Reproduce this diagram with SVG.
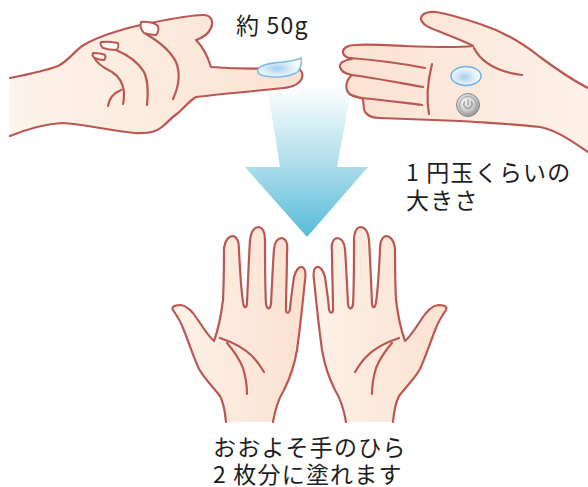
<svg xmlns="http://www.w3.org/2000/svg" xmlns:xlink="http://www.w3.org/1999/xlink" width="588" height="487" viewBox="0 0 588 487">
  <defs>
    <style>
      .skin-line { fill: none; stroke: #bb5752; stroke-width: 2.2; stroke-linecap: round; stroke-linejoin: round; }
      .outline { stroke: #bb5752; stroke-width: 2.2; stroke-linecap: round; stroke-linejoin: round; }
      .nail { fill: #fffaf6; stroke: #bb5752; stroke-width: 2; stroke-linejoin: round; }
      .label { font-family: "Noto Sans CJK JP", "Noto Sans", sans-serif; font-size: 23px; fill: #1e1e1e; letter-spacing: 1.2px; }
    </style>
    <linearGradient id="arrowFill" x1="0" y1="85" x2="0" y2="237" gradientUnits="userSpaceOnUse">
      <stop offset="0" stop-color="#ffffff"/>
      <stop offset="0.55" stop-color="#a9dbea"/>
      <stop offset="1" stop-color="#55bcd8"/>
    </linearGradient>
    <linearGradient id="skinLT" x1="10" y1="0" x2="302" y2="0" gradientUnits="userSpaceOnUse">
      <stop offset="0" stop-color="#fdf3ea"/>
      <stop offset="1" stop-color="#fbe2d2"/>
    </linearGradient>
    <linearGradient id="skinRT" x1="340" y1="0" x2="588" y2="0" gradientUnits="userSpaceOnUse">
      <stop offset="0" stop-color="#fbe1d1"/>
      <stop offset="1" stop-color="#fdf1e8"/>
    </linearGradient>
    <linearGradient id="skinBL" x1="173" y1="0" x2="305" y2="0" gradientUnits="userSpaceOnUse">
      <stop offset="0" stop-color="#fdf1e7"/>
      <stop offset="1" stop-color="#fbe1d0"/>
    </linearGradient>
    <!-- mirrored hand: user-space x runs right to left on screen -->
    <linearGradient id="skinBR" x1="306" y1="0" x2="172" y2="0" gradientUnits="userSpaceOnUse">
      <stop offset="0" stop-color="#fdf1e7"/>
      <stop offset="1" stop-color="#fbe1d0"/>
    </linearGradient>
    <radialGradient id="gel" cx="0.45" cy="0.55" r="0.55">
      <stop offset="0" stop-color="#9fcdf1"/>
      <stop offset="0.45" stop-color="#cfe6f8"/>
      <stop offset="1" stop-color="#ffffff"/>
    </radialGradient>
    <radialGradient id="coinFill" cx="0.4" cy="0.35" r="0.7">
      <stop offset="0" stop-color="#f7f7f7"/>
      <stop offset="0.6" stop-color="#c8c8c8"/>
      <stop offset="1" stop-color="#8e8e8e"/>
    </radialGradient>

    <!-- open palm (left one); fill closes across the wrist, stroke does not -->
    <path id="palmOutline" d="M 226,422 C 225,410 223,402 220,396 C 212,386 204,378 199,369 C 193,356 188,340 183,328 C 180,320 175,313 173,310 C 171,306 176,305 181,305 C 188,306 193,312 198,320 C 204,329 209,337 214,341 C 218,330 221,316 223,300 C 224,280 224,260 224,248 C 225,240 229,236 233,236 C 238,237 239,243 239,250 C 240,270 241,290 243,302 C 244,309 247,309 247,302 C 248,282 249,255 250,240 C 251,231 254,227 259,227 C 264,228 265,233 265,240 C 265,262 265,288 266,304 C 267,310 270,310 271,304 C 272,285 273,262 274,249 C 275,241 278,238 282,238 C 286,239 288,244 287,252 C 287,272 286,292 286,309 C 286,314 289,314 290,309 C 291,296 293,285 294,277 C 296,270 299,266 302,267 C 305,268 306,273 305,280 C 303,300 300,328 297,350 C 294,368 289,380 284,390 C 279,398 275,410 273,422"/>
    <path id="palmLines" d="M 220,338 C 232,342 244,348 252,356 C 257,361 261,367 264,372 M 227,343 C 233,350 239,358 243,368 C 246,378 247,388 247,394"/>
  </defs>

  <rect width="588" height="487" fill="#ffffff"/>

  <!-- downward arrow -->
  <g id="arrow">
    <polygon points="267,85 352,85 337,167 368,167 307,237 245,167 280,167" fill="url(#arrowFill)"/>
  </g>

  <!-- hand with a dab of gel on the fingertip -->
  <g id="hand-fingertip">
    <path class="outline" fill="url(#skinLT)" d="M 10,78 C 25,75 45,71 58,66 C 68,61 74,52 82,46 C 92,40 104,35 118,31 C 130,27 140,25 150,23 C 170,19 190,15 203,15 C 211,15 214,21 211,28 C 208,35 202,38 196,40 C 203,47 208,57 211,67 C 240,69 268,69 290,67 C 298,66 304,71 302,78 C 300,84 292,87 284,88 C 255,91 222,94 196,97 C 188,102 183,109 178,113 C 172,117 168,122 162,127 C 156,132 148,134 135,133 C 110,131 85,124 62,123 C 42,124 25,130 10,136"/>
    <path class="skin-line" d="M 146,34 C 158,41 170,50 176,62 C 181,74 178,88 173,99"/>
    <path class="skin-line" d="M 116,50 C 128,55 138,62 144,72 C 149,82 148,95 147,105"/>
    <path class="skin-line" d="M 94,57 C 96,63 104,68 112,72 C 120,77 123,84 124,92 C 124,97 124,101 123,104"/>
    <path class="skin-line" d="M 108,106 C 109,98 114,93 121,90"/>
    <path class="nail" d="M 141,22 C 148,21 155,23 158,26 C 159,30 158,33 156,35 C 151,35 147,34 144,33 C 141,30 140,26 141,22 Z"/>
    <path class="nail" d="M 101,42 C 107,41 113,42 118,43 C 119,46 118,49 116,50 C 111,50 106,49 103,48 C 101,46 100,44 101,42 Z"/>
    <path class="nail" d="M 93,53 C 98,53 103,54 105,55 C 106,57 105,59 104,60 C 100,60 97,59 95,58 C 93,57 92,55 93,53 Z"/>
    <path fill="url(#gel)" stroke="#7dbbe8" stroke-width="1.4" d="M 259,68 C 265,62 280,63 290,61 C 295,60 299,59 301,58 C 302,64 300,70 296,73 C 288,77 275,78 265,76 C 258,75 256,71 259,68 Z"/>
  </g>

  <!-- open hand holding gel and a one-yen coin -->
  <g id="hand-coin">
    <path class="outline" fill="url(#skinRT)" d="M 588,88 C 572,80 555,68 540,57 C 525,45 505,32 480,24 C 465,19 448,14 436,12 C 427,11 421,14 421,19 C 422,25 430,28 438,31 C 450,36 464,41 473,46 C 455,48 430,47 405,46 C 385,45 366,44 355,45 C 347,45 342,49 343,53 C 344,57 348,58 352,59 C 344,60 339,63 340,67 C 341,72 346,74 352,75 C 346,80 345,88 348,92 C 350,96 356,97 362,98 C 365,101 362,107 365,112 C 368,116 372,118 380,118 C 405,119 430,120 460,121 C 490,123 515,124 540,127 C 556,130 570,140 588,152"/>
    <path class="skin-line" d="M 350,58 C 375,60 405,64 425,68"/>
    <path class="skin-line" d="M 351,75 C 376,78 400,83 423,87"/>
    <path class="skin-line" d="M 360,98 C 385,100 405,103 422,105"/>
    <path class="skin-line" d="M 432,64 C 428,80 426,98 429,114"/>
    <path class="skin-line" d="M 474,48 C 480,60 492,71 522,75"/>
    <ellipse cx="466" cy="76" rx="15" ry="9.5" fill="url(#gel)" stroke="#6fb2e6" stroke-width="1.5"/>
    <g id="coin">
      <circle cx="468" cy="105" r="11.5" fill="url(#coinFill)" stroke="#8a8a8a" stroke-width="1"/>
      <circle cx="468" cy="105" r="8.5" fill="none" stroke="#a3a3a3" stroke-width="1"/>
      <path d="M 465,101.5 A 4,4 0 1 0 471,101.5" fill="none" stroke="#999999" stroke-width="1.3"/>
      <line x1="468" y1="99.5" x2="468" y2="105.5" stroke="#999999" stroke-width="1.3"/>
    </g>
  </g>

  <!-- two open palms -->
  <g id="palm-left">
    <use xlink:href="#palmOutline" class="outline" fill="url(#skinBL)"/>
    <use xlink:href="#palmLines" class="skin-line"/>
  </g>
  <g id="palm-right" transform="translate(619,0) scale(-1,1)">
    <use xlink:href="#palmOutline" class="outline" fill="url(#skinBR)"/>
    <use xlink:href="#palmLines" class="skin-line"/>
  </g>

  <!-- labels -->
  <g id="labels">
    <text class="label" x="236" y="34" letter-spacing="1.5">約 50g</text>
    <text class="label" x="406" y="181" letter-spacing="1.6">1 円玉くらいの</text>
    <text class="label" x="406" y="209" letter-spacing="1.6">大きさ</text>
    <text class="label" x="213" y="456">おおよそ手のひら</text>
    <text class="label" x="213" y="483">2 枚分に塗れます</text>
  </g>
</svg>
